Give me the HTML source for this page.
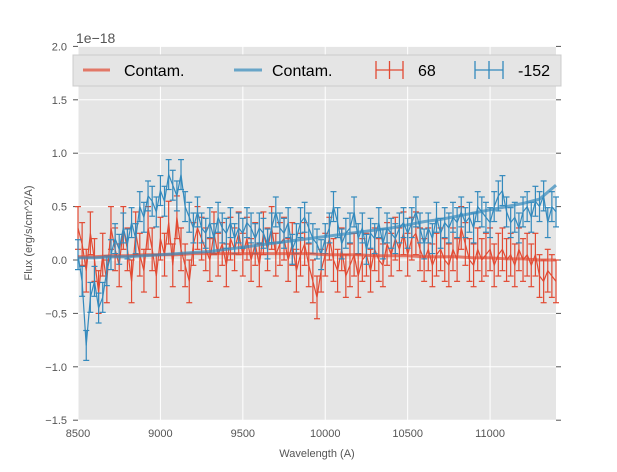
<!DOCTYPE html>
<html><head><meta charset="utf-8"><style>
body{margin:0;background:#fff;font-family:"Liberation Sans",sans-serif}
svg text{font-family:"Liberation Sans",sans-serif}
</style></head><body>
<svg id="chart" width="617" height="467" viewBox="0 0 617 467" xmlns="http://www.w3.org/2000/svg">
<rect x="0" y="0" width="617" height="467" fill="#fff"/>
<rect x="78" y="46" width="478" height="374" fill="#e5e5e5"/>
<g id="grid"></g><g id="axes"></g><g id="series"></g>
<text x="76" y="43" font-size="14" fill="#555">1e−18</text>
<text x="317" y="457" font-size="11" fill="#555" text-anchor="middle">Wavelength (A)</text>
<text transform="translate(32,233) rotate(-90)" font-size="11" fill="#555" text-anchor="middle">Flux (erg/s/cm^2/A)</text>
<g>
<rect x="73" y="55" width="488" height="31" fill="#e5e5e5" stroke="#ccc" stroke-width="1"/>
<g><line x1="83" y1="70" x2="110" y2="70" stroke="#E24A33" stroke-width="3" opacity="0.7"/><text x="124" y="76" font-size="16">Contam.</text></g>
<g><line x1="234" y1="70" x2="262" y2="70" stroke="#348ABD" stroke-width="3" opacity="0.7"/><text x="272" y="76" font-size="16">Contam.</text></g>
<g stroke="#E24A33" stroke-width="1.3"><line x1="376" y1="70" x2="403" y2="70"/><line x1="389.5" y1="61" x2="389.5" y2="79"/><line x1="376" y1="61" x2="376" y2="79"/><line x1="403" y1="61" x2="403" y2="79"/><text x="418" y="76" font-size="16" stroke="none" fill="#000">68</text></g>
<g stroke="#348ABD" stroke-width="1.3"><line x1="475" y1="70" x2="503" y2="70"/><line x1="489" y1="61" x2="489" y2="79"/><line x1="475" y1="61" x2="475" y2="79"/><line x1="503" y1="61" x2="503" y2="79"/><text x="518" y="76" font-size="16" stroke="none" fill="#000">-152</text></g>
</g>
</svg>
<script>
const xTicks=[8500,9000,9500,10000,10500,11000];
const yTicks=[-1.5,-1.0,-0.5,0.0,0.5,1.0,1.5,2.0];
const yTickLabels=["−1.5","−1.0","−0.5","0.0","0.5","1.0","1.5","2.0"];
const wlStart=8500, wlStep=25;
const blueFlux=[0.05,-0.2,-0.8,-0.35,-0.2,-0.45,-0.35,-0.1,0.05,0.2,
0.1,0.3,0.15,0.35,0.2,0.5,0.4,0.6,0.55,0.45,
0.65,0.55,0.8,0.7,0.6,0.8,0.5,0.4,0.3,0.45,
0.3,0.25,0.35,0.2,0.4,0.3,0.25,0.35,0.2,0.3,
0.25,0.35,0.3,0.2,0.3,0.25,0.15,0.3,0.45,0.3,
0.25,0.35,0.1,0.2,0.35,0.4,0.3,0.2,0.15,0.05,
0.2,0.3,0.5,0.35,0.15,0.25,0.3,0.45,0.2,0.3,
0.1,0.25,0.2,0.35,0.15,0.3,0.25,0.2,0.3,0.35,
0.25,0.35,0.45,0.3,0.15,0.3,0.2,0.4,0.25,0.35,
0.3,0.4,0.35,0.45,0.35,0.4,0.3,0.5,0.45,0.4,
0.35,0.5,0.6,0.65,0.45,0.35,0.4,0.3,0.45,0.5,
0.4,0.55,0.5,0.6,0.35,0.5,0.45];
const redFlux=[0.3,0.15,-0.1,0.25,0.0,-0.3,0.05,-0.2,0.3,0.1,
-0.05,0.3,0.1,-0.2,0.25,0.05,-0.1,0.3,0.1,-0.15,
0.2,0.05,0.35,-0.05,0.4,0.1,-0.05,-0.2,0.15,0.3,
0.2,0.1,0.0,0.25,0.05,0.15,-0.05,0.2,0.1,0.25,
0.05,0.2,0.0,0.15,-0.05,0.25,0.1,0.3,0.05,0.15,
0.2,0.0,0.15,-0.1,0.05,0.15,-0.05,-0.2,-0.35,-0.1,
0.05,0.2,0.0,-0.1,0.1,-0.15,-0.05,0.05,-0.15,0.0,
0.05,-0.1,0.1,0.0,-0.05,0.15,0.05,0.2,0.1,0.25,
0.05,0.2,0.25,0.1,0.0,0.1,-0.05,0.05,0.1,0.0,
-0.05,0.1,0.0,0.3,0.15,0.0,-0.05,0.1,0.0,0.05,
0.1,-0.05,0.05,0.1,0.0,0.05,-0.05,0.1,0.0,0.05,
-0.05,0.05,-0.15,-0.2,-0.1,-0.15,-0.2];
const errorSize=[0.2,0.14]; // red, blue
const contamStart=8500, contamStep=100;
const blueContam=[0.02,0.02,0.03,0.03,0.04,0.05,0.06,0.07,0.08,0.1,0.12,0.14,0.16,0.18,0.2,0.22,0.24,0.26,0.28,0.3,0.33,0.36,0.38,0.41,0.44,0.47,0.5,0.53,0.57,0.7];
const redContam=[0.03,0.03,0.04,0.04,0.05,0.05,0.05,0.06,0.06,0.06,0.06,0.06,0.06,0.06,0.06,0.05,0.05,0.05,0.04,0.04,0.04,0.03,0.03,0.03,0.02,0.02,0.01,0.01,0.0,0.0];

const NS="http://www.w3.org/2000/svg";
const X=w=>78+(w-8500)*(478/2900);
const Y=v=>260-v*106.8;
function mk(tag,attrs,parent){const e=document.createElementNS(NS,tag);for(const k in attrs)e.setAttribute(k,attrs[k]);parent.appendChild(e);return e;}
const grid=document.getElementById('grid'),axes=document.getElementById('axes'),ser=document.getElementById('series');
xTicks.forEach(t=>{
  const l=mk('line',{x1:X(t),x2:X(t),y1:46,y2:420,stroke:'#fff','stroke-width':1},grid);
  
  
  const tx=mk('text',{x:X(t),y:437,'font-size':11,fill:'#555','text-anchor':'middle'},axes);
  tx.textContent=t;
  
  
});
yTicks.forEach((t,i)=>{
  const l=mk('line',{x1:78,x2:556,y1:Y(t),y2:Y(t),stroke:'#fff','stroke-width':1},grid);
  
  
  mk('line',{x1:556,x2:561,y1:Y(t),y2:Y(t),stroke:'#555'},axes);
  mk('line',{x1:73,x2:78,y1:Y(t),y2:Y(t),stroke:'#555'},axes);
  const tx=mk('text',{x:67,y:Y(t)+4,'font-size':11,fill:'#555','text-anchor':'end'},axes);
  tx.textContent=yTickLabels[i];
  
  
});
function errSeries(vals,err,color,name){
  const g=mk('g',{stroke:color,'stroke-width':1.2,fill:'none'},ser);
  
  
  let d='';
  vals.forEach((v,i)=>{const x=X(wlStart+i*wlStep);
    mk('line',{x1:x,x2:x,y1:Y(v-err),y2:Y(v+err)},g);
    mk('line',{x1:x-3,x2:x+3,y1:Y(v-err),y2:Y(v-err)},g);
    mk('line',{x1:x-3,x2:x+3,y1:Y(v+err),y2:Y(v+err)},g);
    d+=(i?'L':'M')+x.toFixed(1)+','+Y(v).toFixed(1);});
  mk('path',{d:d},g);
}
function contam(vals,color,name){
  let d='';vals.forEach((v,i)=>{d+=(i?'L':'M')+X(contamStart+i*contamStep).toFixed(1)+','+Y(v).toFixed(1);});
  const p=mk('path',{d:d,stroke:color,'stroke-width':3,fill:'none',opacity:0.7},ser);
  
  
}
errSeries(redFlux,errorSize[0],'#E24A33','series-68');
errSeries(blueFlux,errorSize[1],'#348ABD','series-minus152');
contam(redContam,'#E24A33','red-contam-line');
contam(blueContam,'#348ABD','blue-contam-line');
</script>
</body></html>
